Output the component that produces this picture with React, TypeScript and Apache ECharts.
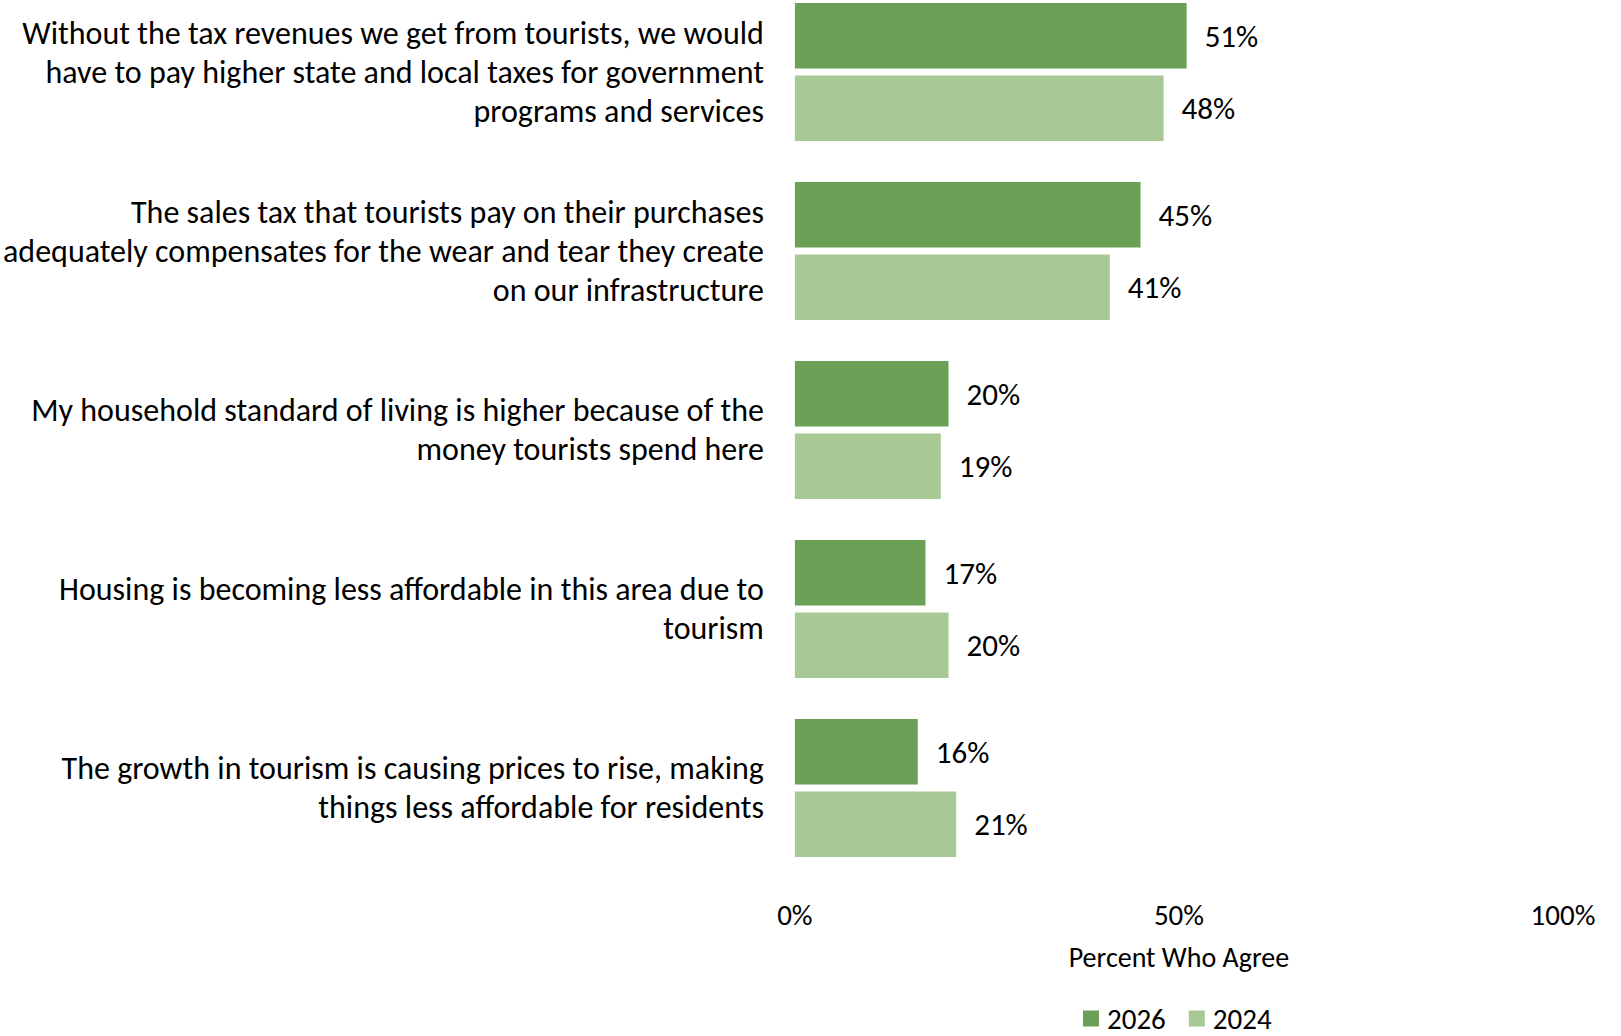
import React, { useEffect, useRef } from "react";
import * as echarts from "echarts";

const categories = [
  "Without the tax revenues we get from tourists, we would\nhave to pay higher state and local taxes for government\nprograms and services",
  "The sales tax that tourists pay on their purchases\nadequately compensates for the wear and tear they create\non our infrastructure",
  "My household standard of living is higher because of the\nmoney tourists spend here",
  "Housing is becoming less affordable in this area due to\ntourism",
  "The growth in tourism is causing prices to rise, making\nthings less affordable for residents",
];
const values2026 = [51, 45, 20, 17, 16];
const values2024 = [48, 41, 19, 20, 21];
const xTicks = [0, 50, 100];

const FONT = "Carlito, Calibri, Lato, sans-serif";

export default function App() {
  const ref = useRef<HTMLDivElement>(null);
  useEffect(() => {
    document.body.style.margin = "0";
    const chart = echarts.init(ref.current!, null, { renderer: "svg" });
    const label = {
      show: true,
      position: "right",
      distance: 18,
      formatter: "{c}%",
      color: "#000",
      fontSize: 31,
      fontFamily: FONT,
    };
    chart.setOption({
      animation: false,
      backgroundColor: "#fff",
      textStyle: { fontFamily: FONT },
      grid: { left: 794, width: 769, top: 72, height: 716 },
      legend: {
        left: 1078,
        top: 999,
        itemWidth: 16,
        itemHeight: 16,
        itemGap: 23,
        icon: "rect",
        textStyle: { fontSize: 29, color: "#000", fontFamily: FONT, padding: [0, 0, 0, 3] },
        data: ["2026", "2024"],
      },
      xAxis: {
        type: "value",
        min: xTicks[0],
        max: xTicks[xTicks.length - 1],
        interval: 50,
        splitLine: { show: false },
        axisLine: { show: false },
        axisTick: { show: false },
        axisLabel: { formatter: "{value}%", fontSize: 29, color: "#000", margin: 112, fontFamily: FONT },
        name: "Percent Who Agree",
        nameLocation: "middle",
        nameGap: 155,
        nameTextStyle: { fontSize: 28, color: "#000", fontFamily: FONT },
      },
      yAxis: {
        type: "category",
        inverse: true,
        boundaryGap: false,
        data: categories,
        axisLine: { show: false },
        axisTick: { show: false },
        splitLine: { show: false },
        axisLabel: {
          fontSize: 32,
          lineHeight: 39,
          color: "#000",
          align: "right",
          margin: 31,
          fontFamily: FONT,
        },
      },
      series: [
        {
          name: "2026",
          type: "bar",
          data: values2026,
          barWidth: 65.5,
          barGap: "11%",
          itemStyle: { color: "#6BA157" },
          label,
        },
        {
          name: "2024",
          type: "bar",
          data: values2024,
          barWidth: 65.5,
          barGap: "11%",
          itemStyle: { color: "#A8C996" },
          label,
        },
      ],
    });
    return () => chart.dispose();
  }, []);
  return <div ref={ref} style={{ width: 1621, height: 1036 }} />;
}
